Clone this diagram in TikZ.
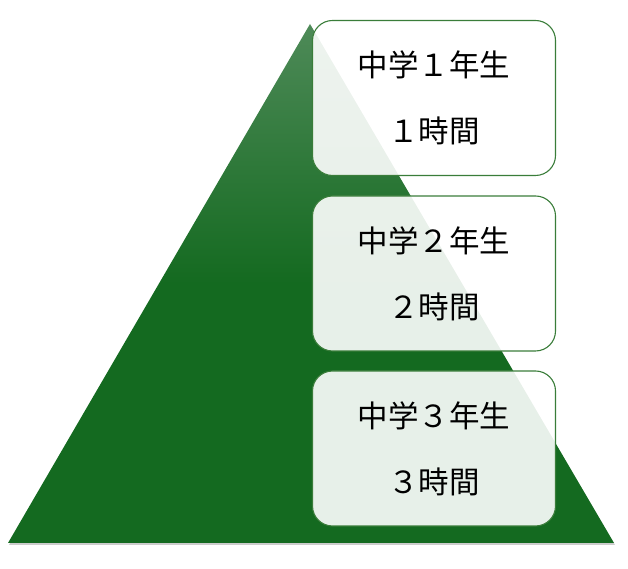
\documentclass[tikz,border=0pt]{standalone}
\usepackage{fontspec}
\setmainfont{Noto Sans CJK JP}
\usepackage{tikz}
\definecolor{PyDark}{HTML}{146A20}
\definecolor{PyLight}{HTML}{4E8A58}
\definecolor{PyLine}{HTML}{3A7D3A}
\pgfdeclareverticalshading{pyramidshade}{100bp}{color(0bp)=(PyDark); color(50bp)=(PyDark); color(75bp)=(PyLight); color(100bp)=(PyLight)}
\tikzset{gradebox/.style={draw=PyLine,line width=1.1pt,fill=white,fill opacity=0.9,text opacity=1,rounded corners=20pt,minimum width=243pt,minimum height=155pt,inner sep=0pt,align=center,font=\fontsize{30.5}{66}\selectfont}}

\begin{document}
\begin{tikzpicture}[x=1pt,y=1pt]
\path[use as bounding box] (0,0) rectangle (628,569);
\fill[black,opacity=0.2] (9,24) -- (615,24) -- (311,543) -- cycle;
\shade[shading=pyramidshade] (8,26) -- (614,26) -- (310,545) -- cycle;
\node[gradebox] (grade1) at (434,471) {中学１年生\\１時間};
\node[gradebox] (grade2) at (434,295.5) {中学２年生\\２時間};
\node[gradebox] (grade3) at (434,120.5) {中学３年生\\３時間};
\end{tikzpicture}
\end{document}
